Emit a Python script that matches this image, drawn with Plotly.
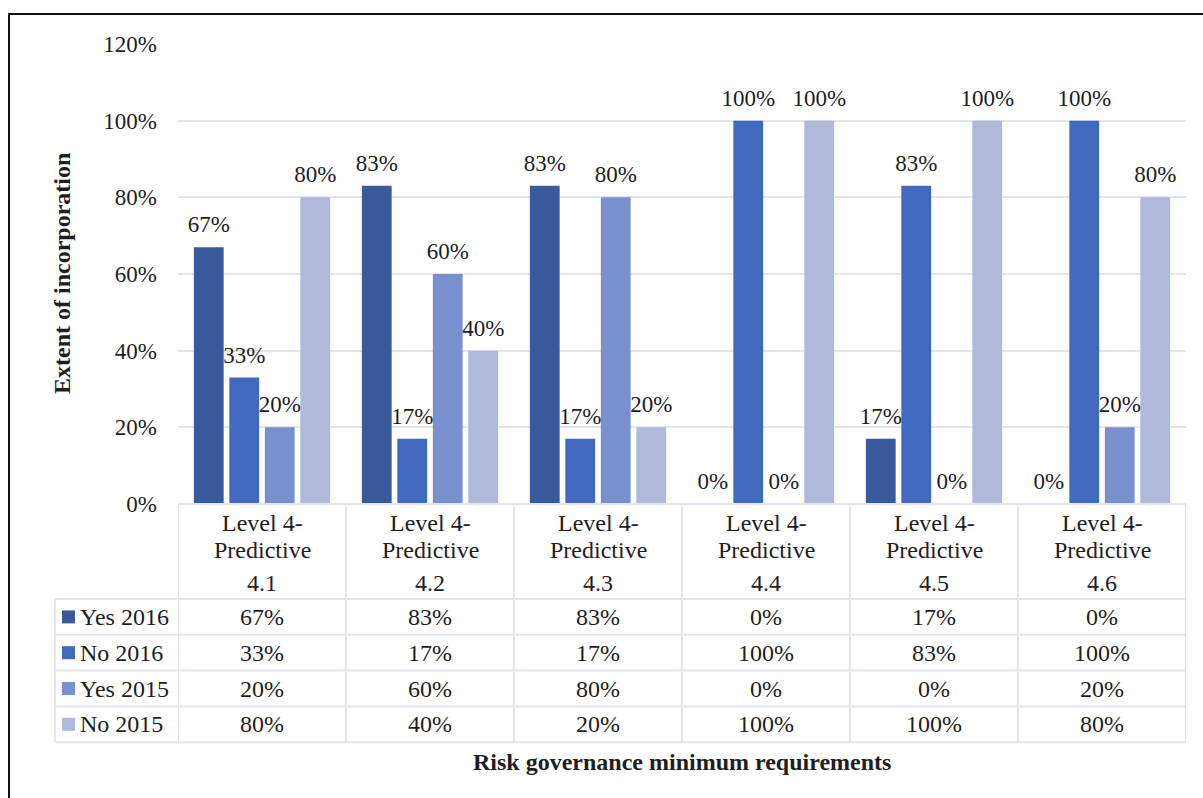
import plotly.graph_objects as go

# ---- data ----
categories = ["4.1", "4.2", "4.3", "4.4", "4.5", "4.6"]
header_line1 = "Level 4-"
header_line2 = "Predictive"
series_names = ["Yes 2016", "No 2016", "Yes 2015", "No 2015"]
yes_2016 = [67, 83, 83, 0, 17, 0]
no_2016 = [33, 17, 17, 100, 83, 100]
yes_2015 = [20, 60, 80, 0, 0, 20]
no_2015 = [80, 40, 20, 100, 100, 80]
y_ticks = [0, 20, 40, 60, 80, 100, 120]

series_values = [yes_2016, no_2016, yes_2015, no_2015]
series_colors = ["#3a5a9c", "#4169bd", "#7890cd", "#aeb9dc"]

FONT = "Liberation Serif, Times New Roman, serif"
FS = 23        # tick labels and bar labels
FS_TAB = 24    # table text and titles
TXT = "#1e1e1e"
GRID = "#e2e6ec"

# ---- geometry helpers (pixel -> paper) ----
W, H = 1203, 798
L, R, T, B = 178, 17, 44, 294
plot_w = W - L - R
plot_h = H - T - B


def px_x(px):
    return (px - L) / plot_w


def px_y(py):
    return (H - B - py) / plot_h


fig = go.Figure()

for name, vals, col in zip(series_names, series_values, series_colors):
    fig.add_trace(go.Bar(
        x=categories, y=[v / 100 for v in vals], name=name,
        marker=dict(color=col, line=dict(width=0)),
        showlegend=False, hoverinfo="skip",
    ))

# value labels above each bar
for name, vals in zip(series_names, series_values):
    fig.add_trace(go.Scatter(
        x=categories, y=[v / 100 for v in vals], name=name + " label",
        mode="markers+text", text=[f"{v}%" for v in vals],
        textposition="top center",
        textfont=dict(family=FONT, size=FS, color=TXT),
        marker=dict(size=13, color="rgba(0,0,0,0)"),
        cliponaxis=False, showlegend=False, hoverinfo="skip",
    ))

shapes = []
annotations = []

# data table below the plot
header_top = 504
header_bottom = 599
row_h = 35.8
row_edges = [header_bottom + i * row_h for i in range(5)]
table_left = 55
line_style = dict(color=GRID, width=2)

shapes.append(dict(type="line", xref="paper", yref="paper",
                   x0=0, x1=1, y0=px_y(header_top), y1=px_y(header_top),
                   line=line_style))
for ye in row_edges:
    shapes.append(dict(type="line", xref="paper", yref="paper",
                       x0=px_x(table_left), x1=1, y0=px_y(ye), y1=px_y(ye),
                       line=line_style))
for i in range(len(categories) + 1):
    shapes.append(dict(type="line", xref="x", yref="paper",
                       x0=i - 0.5, x1=i - 0.5,
                       y0=px_y(header_top), y1=px_y(row_edges[-1]),
                       line=line_style))
shapes.append(dict(type="line", xref="paper", yref="paper",
                   x0=px_x(table_left), x1=px_x(table_left),
                   y0=px_y(row_edges[0]), y1=px_y(row_edges[-1]),
                   line=line_style))

for ci, cat in enumerate(categories):
    for txt, py in ((header_line1, 523), (header_line2, 550), (cat, 583)):
        annotations.append(dict(xref="x", yref="paper", x=ci, y=px_y(py),
                                text=txt, showarrow=False,
                                xanchor="center", yanchor="middle",
                                font=dict(family=FONT, size=FS_TAB, color=TXT)))

for r, (name, vals, col) in enumerate(zip(series_names, series_values, series_colors)):
    yc = row_edges[r] + row_h / 2
    shapes.append(dict(type="rect", xref="paper", yref="paper",
                       x0=px_x(62), x1=px_x(75),
                       y0=px_y(yc - 6.5), y1=px_y(yc + 6.5),
                       fillcolor=col, line=dict(width=0)))
    annotations.append(dict(xref="paper", yref="paper", x=px_x(78), y=px_y(yc),
                            text=name, showarrow=False,
                            xanchor="left", yanchor="middle",
                            font=dict(family=FONT, size=FS_TAB, color=TXT)))
    for ci, v in enumerate(vals):
        annotations.append(dict(xref="x", yref="paper", x=ci, y=px_y(yc),
                                text=f"{v}%", showarrow=False,
                                xanchor="center", yanchor="middle",
                                font=dict(family=FONT, size=FS_TAB, color=TXT)))

# axis titles
annotations.append(dict(xref="paper", yref="paper", x=px_x(62), y=px_y(274),
                        text="<b>Extent of incorporation</b>", textangle=-90,
                        showarrow=False, xanchor="center", yanchor="middle",
                        font=dict(family=FONT, size=FS_TAB, color=TXT)))
annotations.append(dict(xref="paper", yref="paper", x=0.5, y=px_y(762),
                        text="<b>Risk governance minimum requirements</b>",
                        showarrow=False, xanchor="center", yanchor="middle",
                        font=dict(family=FONT, size=FS_TAB, color=TXT)))

# outer frame
shapes.append(dict(type="rect", xref="paper", yref="paper",
                   x0=px_x(9), x1=px_x(1215), y0=px_y(14), y1=px_y(815),
                   line=dict(color="#111111", width=2), fillcolor="rgba(0,0,0,0)"))

fig.update_layout(
    width=W, height=H,
    margin=dict(l=L, r=R, t=T, b=B),
    paper_bgcolor="white", plot_bgcolor="white",
    barmode="group", bargap=0.155, bargroupgap=0.16,
    scattermode="group", scattergap=0.155,
    shapes=shapes, annotations=annotations,
    font=dict(family=FONT, size=FS, color=TXT),
    xaxis=dict(type="category", showticklabels=False, showgrid=False,
               zeroline=False, showline=False,
               range=[-0.5, len(categories) - 0.5]),
    yaxis=dict(range=[0, 1.2], tickvals=[v / 100 for v in y_ticks],
               ticktext=[f"{v}%" for v in y_ticks],
               showgrid=True, gridcolor=GRID, gridwidth=2,
               zeroline=False, showline=False, ticks="",
               ticklabelstandoff=20,
               tickfont=dict(family=FONT, size=FS, color=TXT)),
)

fig.write_html("out.html")
